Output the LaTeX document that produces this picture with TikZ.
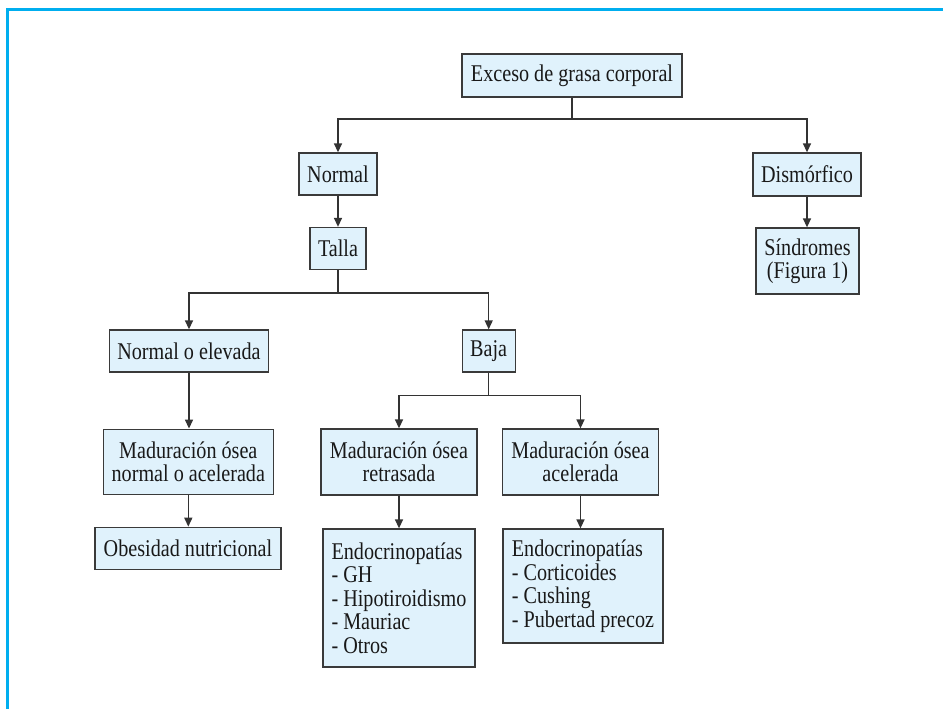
\documentclass[tikz,border=0pt]{standalone}
\usepackage{fontspec}
\setmainfont[FakeStretch=0.84]{Liberation Serif}
\usetikzlibrary{arrows.meta}
\definecolor{framecyan}{HTML}{00AEEF}
\definecolor{boxfill}{HTML}{E0F2FC}
\definecolor{boxline}{HTML}{3A3A3A}
\definecolor{conn}{HTML}{333333}
\begin{document}
\begin{tikzpicture}[x=1pt,y=-1pt,
  box/.style={draw=boxline,fill=boxfill,line width=1.3pt,inner sep=0pt,align=center,
    font=\fontsize{24}{23.5}\selectfont,text=black!90},
  lbox/.style={box,align=left,inner xsep=8pt},
  arr/.style={draw=conn,line width=1.4pt,-{Triangle[width=8pt,length=9pt]}},
  ln/.style={draw=conn,line width=1.4pt}]
\useasboundingbox (0,0) rectangle (943,709);
\fill[white] (0,0) rectangle (943,709);
% frame
\draw[framecyan,line width=3pt] (7.3,709) -- (7.3,9.5) -- (943,9.5);
% nodes
\node[box,minimum width=220pt,minimum height=43pt] (exc) at (572,75.5) {Exceso de grasa corporal};
\node[box,minimum width=78pt,minimum height=42pt] (nor) at (338,174) {Normal};
\node[box,minimum width=108pt,minimum height=43pt] (dis) at (807,174.5) {Dismórfico};
\node[box,minimum width=103pt,minimum height=66pt] (sin) at (807.5,261) {Síndromes\\(Figura 1)};
\node[box,minimum width=56pt,minimum height=42pt] (tal) at (338,248.5) {Talla};
\node[box,minimum width=159pt,minimum height=42pt] (noe) at (189,351) {Normal o elevada};
\node[box,minimum width=53pt,minimum height=42pt] (baj) at (488.7,351) {Baja};
\node[box,minimum width=170pt,minimum height=65pt] (mnn) at (188.3,461.7) {Maduración ósea\\normal o acelerada};
\node[box,minimum width=156pt,minimum height=66pt] (mre) at (399,462) {Maduración ósea\\retrasada};
\node[box,minimum width=156pt,minimum height=66pt] (mac) at (580.5,462) {Maduración ósea\\acelerada};
\node[box,minimum width=186pt,minimum height=42pt] (obe) at (188,548.3) {Obesidad nutricional};
\node[lbox,minimum width=152pt,minimum height=138pt] (en1) at (399,598) {Endocrinopatías\\- GH\\- Hipotiroidismo\\- Mauriac\\- Otros};
\node[lbox,minimum width=160pt,minimum height=114pt] (en2) at (583,586) {Endocrinopatías\\- Corticoides\\- Cushing\\- Pubertad precoz};
% junctions
\coordinate (j1) at (572,119);
\coordinate (j2) at (338,293);
\coordinate (j3) at (488.7,395.3);
% connectors
\draw[ln] (exc.south) -- (j1);
\draw[arr] (j1) -| (nor.north);
\draw[arr] (j1) -| (dis.north);
\draw[arr] (nor.south) -- (tal.north);
\draw[arr] (dis.south) -- (dis.south |- sin.north);
\draw[ln] (tal.south) -- (j2);
\draw[arr] (j2) -| (noe.north);
\draw[arr] (j2) -| (baj.north);
\draw[arr] (noe.south) -- (noe.south |- mnn.north);
\draw[arr] (mnn.south) -- (mnn.south |- obe.north);
\draw[ln] (baj.south) -- (j3);
\draw[arr] (j3) -| (mre.north);
\draw[arr] (j3) -| (mac.north);
\draw[arr] (mre.south) -- (mre.south |- en1.north);
\draw[arr] (mac.south) -- (mac.south |- en2.north);
\end{tikzpicture}
\end{document}
